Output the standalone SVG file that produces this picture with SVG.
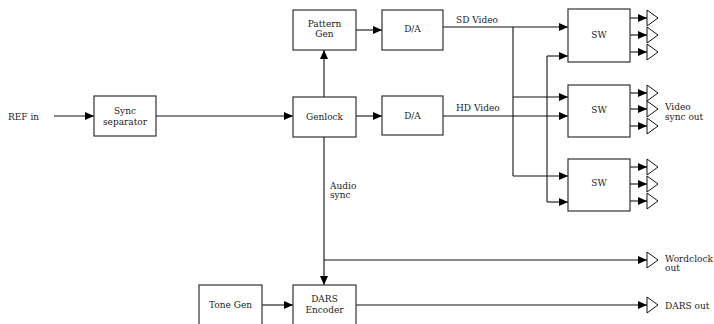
<svg xmlns="http://www.w3.org/2000/svg" width="714" height="324" viewBox="0 0 714 324">
<defs>
<marker id="ah" markerUnits="userSpaceOnUse" markerWidth="9" markerHeight="8" refX="9" refY="4" orient="auto">
<path d="M0,0 L9,4 L0,8 z" fill="#000"/>
</marker>
</defs>
<style>
.box{fill:#fff;stroke:#333;stroke-width:1.2}
.t{font-family:"DejaVu Serif","Liberation Serif",serif;font-size:9px;fill:#222}
.c{text-anchor:middle}
.ln{fill:none;stroke:#111;stroke-width:1.1}
.ar{fill:none;stroke:#111;stroke-width:1.1;marker-end:url(#ah)}
.tri{fill:#fff;stroke:#111;stroke-width:1}
</style>
<rect width="714" height="324" fill="#fff"/>
<g id="connectors">
<path class="ar" d="M54,116 H94"/>
<path class="ar" d="M156,116 H293"/>
<path class="ar" d="M324,97 V50"/>
<path class="ar" d="M356,30 H382"/>
<path class="ar" d="M356,116 H382"/>
<path class="ar" d="M443,27 H568"/>
<path class="ln" d="M513,27 V176"/>
<path class="ar" d="M513,97 H568"/>
<path class="ar" d="M513,176 H568"/>
<path class="ar" d="M443,116 H568"/>
<path class="ln" d="M547,56 V202"/>
<path class="ar" d="M547,56 H568"/>
<path class="ar" d="M547,202 H568"/>
<path class="ar" d="M630,18 H647"/>
<path class="ar" d="M630,35 H647"/>
<path class="ar" d="M630,52 H647"/>
<path class="ar" d="M630,93 H647"/>
<path class="ar" d="M630,109 H647"/>
<path class="ar" d="M630,126 H647"/>
<path class="ar" d="M630,167 H647"/>
<path class="ar" d="M630,184 H647"/>
<path class="ar" d="M630,201 H647"/>
<path class="ar" d="M324,137 V285"/>
<path class="ar" d="M324,260 H647"/>
<path class="ar" d="M262,305 H293"/>
<path class="ar" d="M356,305 H647"/>
</g>
<g id="buffers">
<path class="tri" d="M647,10 L658,18 L647,26 z"/>
<path class="tri" d="M647,27 L658,35 L647,43 z"/>
<path class="tri" d="M647,44 L658,52 L647,60 z"/>
<path class="tri" d="M647,85 L658,93 L647,101 z"/>
<path class="tri" d="M647,101 L658,109 L647,117 z"/>
<path class="tri" d="M647,118 L658,126 L647,134 z"/>
<path class="tri" d="M647,159 L658,167 L647,175 z"/>
<path class="tri" d="M647,176 L658,184 L647,192 z"/>
<path class="tri" d="M647,193 L658,201 L647,209 z"/>
<path class="tri" d="M647,252 L658,260 L647,268 z"/>
<path class="tri" d="M647,297 L658,305 L647,313 z"/>
</g>
<g id="ref-in"><text class="t" x="8" y="120">REF in</text></g>
<g id="sync-separator"><rect class="box" x="94" y="96" width="62" height="40"/><text class="t c" x="125" y="114">Sync</text><text class="t c" x="125" y="125">separator</text></g>
<g id="pattern-gen"><rect class="box" x="293" y="10" width="63" height="40"/><text class="t c" x="324.5" y="27">Pattern</text><text class="t c" x="324.5" y="37">Gen</text></g>
<g id="genlock"><rect class="box" x="293" y="97" width="63" height="40"/><text class="t c" x="324.5" y="120">Genlock</text></g>
<g id="da-sd"><rect class="box" x="382" y="10" width="61" height="40"/><text class="t c" x="412.5" y="32">D/A</text></g>
<g id="da-hd"><rect class="box" x="382" y="96" width="61" height="39"/><text class="t c" x="412.5" y="118.5">D/A</text></g>
<g id="label-sd"><text class="t" x="456" y="23">SD Video</text></g>
<g id="label-hd"><text class="t" x="456" y="111">HD Video</text></g>
<g id="sw1"><rect class="box" x="568" y="9" width="62" height="53"/><text class="t c" x="599" y="38">SW</text></g>
<g id="sw2"><rect class="box" x="568" y="85" width="62" height="52"/><text class="t c" x="599" y="113">SW</text></g>
<g id="sw3"><rect class="box" x="568" y="159" width="62" height="52"/><text class="t c" x="599" y="186">SW</text></g>
<g id="video-sync-out"><text class="t" x="665" y="110">Video</text><text class="t" x="665" y="120">sync out</text></g>
<g id="audio-sync"><text class="t" x="330" y="189">Audio</text><text class="t" x="330" y="198">sync</text></g>
<g id="wordclock-out"><text class="t" x="665" y="262">Wordclock</text><text class="t" x="665" y="271">out</text></g>
<g id="dars-out"><text class="t" x="665" y="309">DARS out</text></g>
<g id="tone-gen"><rect class="box" x="199" y="285" width="63" height="50"/><text class="t c" x="230.5" y="307.5">Tone Gen</text></g>
<g id="dars-encoder"><rect class="box" x="293" y="285" width="63" height="50"/><text class="t c" x="324.5" y="302">DARS</text><text class="t c" x="324.5" y="313">Encoder</text></g>
</svg>
